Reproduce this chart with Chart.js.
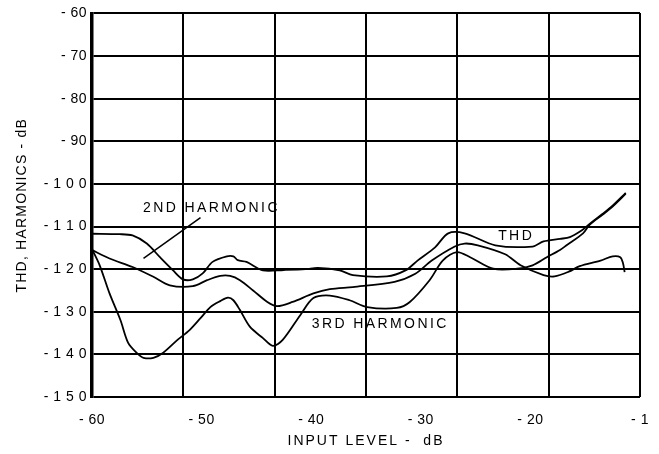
<!DOCTYPE html>
<html>
<head>
<meta charset="utf-8">
<script src="https://cdn.jsdelivr.net/npm/chart.js@4/dist/chart.umd.min.js"></script>
<style>
  body { margin: 0; background: #fff; }
  canvas { display: block; }
</style>
</head>
<body>
<canvas id="thdChart" width="659" height="454"></canvas>
<script>
// THD curve
const thdIn = [-60, -57.5, -56.3, -55.0, -53.8, -52.6, -51.7, -50.8, -49.9, -49.0, -47.7, -47.1, -46.7, -45.9, -44.4, -42.5, -40.5, -39.4, -37.4, -36.2, -33.1, -31.4, -30.3, -28.7, -27.5, -26.0, -23.2, -19.8, -18.8, -17.3, -16.4, -15.3, -14.6, -13.4, -12.5, -11.3];
const thdDb = [-111.7, -111.8, -112.1, -114.0, -117.2, -120.3, -122.4, -122.4, -121.0, -118.3, -117.0, -117.0, -117.9, -118.3, -120.3, -120.2, -120.0, -119.7, -120.3, -121.4, -121.7, -120.3, -118.0, -114.9, -111.6, -111.6, -114.4, -114.7, -113.5, -112.9, -112.5, -110.9, -109.4, -107.0, -105.1, -102.1];

// 2nd harmonic
const h2In = [-60, -58.4, -56.3, -54.4, -52.9, -50.8, -49.5, -48.3, -47.4, -46.5, -45.3, -44.0, -43.1, -41.7, -39.8, -38.3, -36.2, -32.4, -30.5, -29.0, -26.9, -26.0, -24.8, -22.3, -20.9, -18.8, -17.8, -16.5, -15.5, -13.6, -12.5, -11.8, -11.55, -11.4];
const h2Db = [-115.5, -117.5, -119.5, -121.8, -123.8, -124.0, -122.6, -121.6, -121.6, -122.6, -125.0, -127.7, -128.7, -127.7, -125.7, -124.7, -124.2, -123.0, -121.1, -118.0, -114.7, -114.0, -114.4, -116.5, -119.1, -121.4, -121.7, -120.6, -119.3, -118.0, -117.0, -117.2, -118.6, -120.7];

// 3rd harmonic
const h3In = [-60, -59.3, -58.4, -57.4, -56.7, -55.9, -55.3, -54.4, -53.5, -52.2, -51.1, -50.1, -49.2, -48.3, -47.6, -47.1, -46.5, -45.6, -44.4, -43.5, -42.6, -41.0, -39.8, -38.3, -36.5, -34.9, -32.2, -31.0, -29.2, -28.0, -26.7, -25.5, -23.4, -21.2, -19.8, -18.5, -17.3, -16.7, -15.2, -14.6, -13.4, -12.5, -11.3];
const h3Db = [-115.3, -119.1, -125.7, -132.0, -137.3, -139.7, -140.8, -140.8, -139.6, -136.6, -134.3, -131.5, -128.9, -127.5, -126.7, -127.3, -129.6, -133.5, -136.2, -138.0, -136.6, -130.8, -126.8, -126.2, -127.3, -128.9, -129.1, -127.7, -122.6, -118.0, -116.0, -117.2, -119.9, -119.9, -119.1, -117.2, -115.5, -114.4, -111.6, -109.6, -107.2, -105.3, -102.3];

// leader line from the "2ND HARMONIC" label
const pointerIn = [-50.1, -55.3];
const pointerDb = [-107.9, -117.5];

const xTicks = [-60, -50, -40, -30, -20, -10];
const xTickLabels = ["- 60", "- 50", "- 40", "- 30", "- 20", "- 1"];
const yTicks = [-150, -140, -130, -120, -110, -100, -90, -80, -70, -60];
const yTickLabels = ["- 1 5 0", "- 1 4 0", "- 1 3 0", "- 1 2 0", "- 1 1 0", "- 1 0 0", "- 90", "- 80", "- 70", "- 60"];
const gridX = [-60, -51.667, -43.333, -35, -26.667, -18.333, -10];

const curveLabels = ["2ND HARMONIC", "3RD HARMONIC", "THD"];
const labelIn = [-49.1, -33.7, -21.3];
const labelDb = [-105.6, -132.9, -112.3];

const FONT = '"Liberation Sans", Arial, sans-serif';

const pts = (xs, ys) => xs.map((x, i) => ({ x: x, y: ys[i] }));

const lineStyle = {
  borderColor: "#000",
  borderWidth: 1.8,
  pointRadius: 0,
  fill: false,
  tension: 0.3,
};

// text that Chart.js can't letter-space: axis titles and curve labels
const textPlugin = {
  id: "textPlugin",
  beforeDraw(chart) {
    chart.ctx.letterSpacing = "0.5px";
  },
  afterDraw(chart) {
    const ctx = chart.ctx;
    const area = chart.chartArea;
    const xs = chart.scales.x;
    const ys = chart.scales.y;
    ctx.save();
    ctx.fillStyle = "#000";
    ctx.textAlign = "center";
    ctx.textBaseline = "middle";

    ctx.font = "14px " + FONT;
    ctx.letterSpacing = "2.4px";
    curveLabels.forEach((t, i) => {
      ctx.fillText(t, xs.getPixelForValue(labelIn[i]), ys.getPixelForValue(labelDb[i]));
    });

    ctx.letterSpacing = "2px";
    ctx.fillText("INPUT LEVEL -  dB", (area.left + area.right) / 2, chart.height - 13);

    ctx.letterSpacing = "1.2px";
    ctx.translate(22, (area.top + area.bottom) / 2);
    ctx.rotate(-Math.PI / 2);
    ctx.fillText("THD, HARMONICS - dB", 0, 0);
    ctx.restore();
  },
};

new Chart(document.getElementById("thdChart"), {
  type: "line",
  data: {
    datasets: [
      { ...lineStyle, label: "THD", data: pts(thdIn, thdDb) },
      { ...lineStyle, label: "2ND HARMONIC", data: pts(h2In, h2Db) },
      { ...lineStyle, label: "3RD HARMONIC", data: pts(h3In, h3Db) },
      { ...lineStyle, label: "pointer", data: pts(pointerIn, pointerDb), borderWidth: 1.5, tension: 0 },
    ],
  },
  options: {
    responsive: false,
    animation: false,
    devicePixelRatio: 1,
    layout: { padding: { top: 12, right: 19, left: 0, bottom: 0 } },
    plugins: {
      legend: { display: false },
      tooltip: { enabled: false },
    },
    scales: {
      x: {
        type: "linear",
        position: "bottom",
        min: -60,
        max: -10,
        afterBuildTicks: (s) => { s.ticks = xTicks.map((v) => ({ value: v })); },
        afterFit: (s) => { s.height = 57; },
        grid: { display: false },
        border: { display: false },
        ticks: {
          color: "#000",
          font: { family: FONT, size: 14 },
          padding: 7,
          maxRotation: 0,
          autoSkip: false,
          callback: (v) => xTickLabels[xTicks.indexOf(v)],
        },
      },
      x2: {
        type: "linear",
        position: "top",
        min: -60,
        max: -10,
        afterBuildTicks: (s) => { s.ticks = gridX.map((v) => ({ value: v })); },
        afterFit: (s) => { s.height = 0; },
        grid: { color: "#000", lineWidth: 2, drawTicks: false },
        border: { display: false },
        ticks: { display: false },
      },
      y: {
        min: -150,
        max: -60,
        afterBuildTicks: (s) => { s.ticks = yTicks.map((v) => ({ value: v })); },
        afterFit: (s) => { s.width = 92; },
        grid: { color: "#000", lineWidth: 2, drawTicks: false },
        border: { display: true, color: "#000", width: 3.5 },
        ticks: {
          color: "#000",
          font: { family: FONT, size: 14 },
          padding: 5,
          callback: (v) => yTickLabels[yTicks.indexOf(v)],
        },
      },
    },
  },
  plugins: [textPlugin],
});
</script>
</body>
</html>
